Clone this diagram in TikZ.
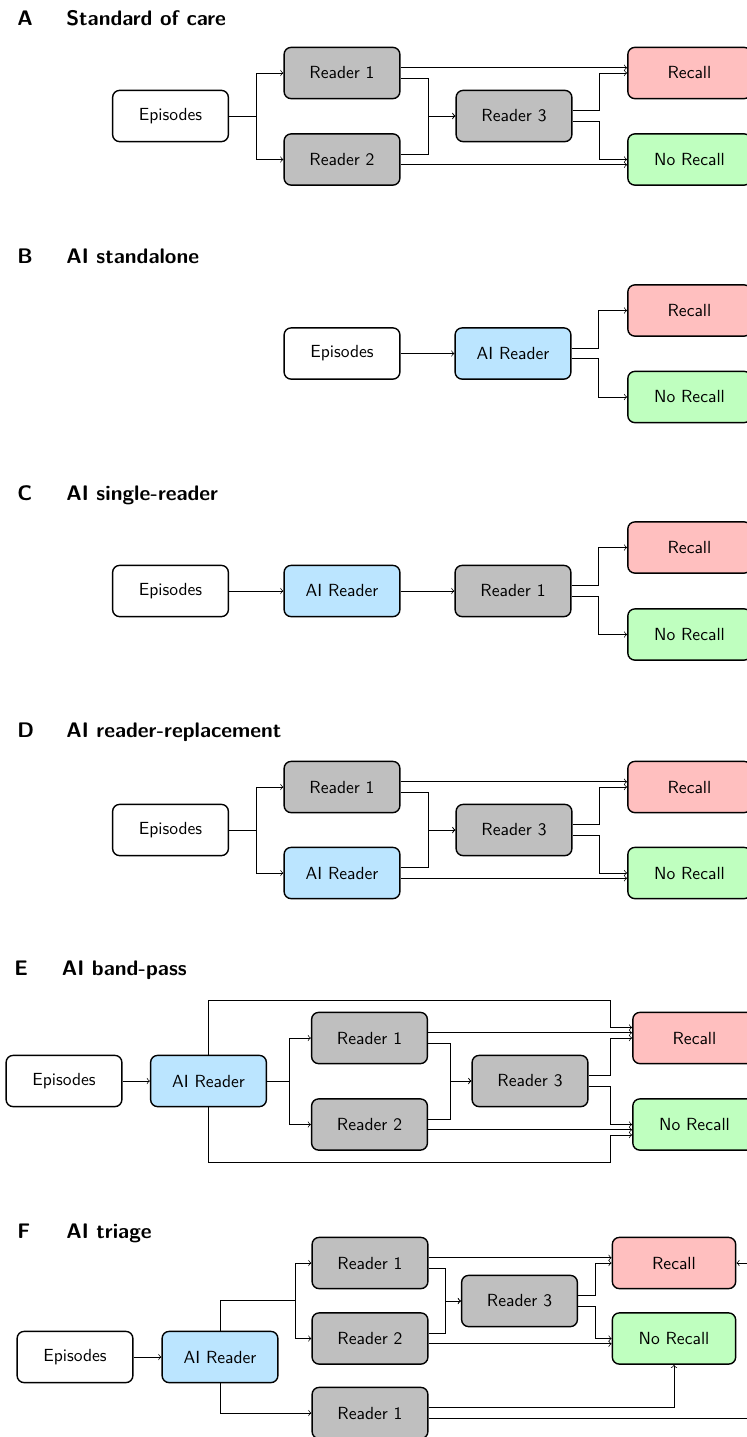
\documentclass[tikz,border=0pt]{standalone}
\usetikzlibrary{arrows}
\definecolor{greyfill}{RGB}{191,191,191}
\definecolor{aifill}{RGB}{187,229,255}
\definecolor{recfill}{RGB}{255,191,191}
\definecolor{norfill}{RGB}{191,255,191}
\begin{document}
\begin{tikzpicture}[x=0.57pt,y=-0.57pt,
  box/.style={draw=black, line width=0.8pt, rounded corners=4pt, minimum width=66pt, minimum height=29.2pt, inner sep=0pt, font=\sffamily},
  ep/.style={box, fill=white},
  rd/.style={box, fill=greyfill},
  ai/.style={box, fill=aifill},
  rc/.style={box, fill=recfill, minimum width=70.3pt},
  nr/.style={box, fill=norfill, minimum width=70.3pt},
  conn/.style={->, line width=0.4pt, black},
  lbl/.style={anchor=base west, font=\sffamily\bfseries\large, inner sep=0pt}
]
\useasboundingbox (0,0) rectangle (746,1437);

% ---------------- A
\node[lbl] (tA) at (17,25) {A};
\node[lbl] (nA) at (66,25) {Standard of care};
\node[ep] (epA) at (170.5,116) {Episodes};
\node[rd] (r1A) at (342,73) {Reader 1};
\node[rd] (r2A) at (342,159.5) {Reader 2};
\node[rd] (r3A) at (514,116) {Reader 3};
\node[rc] (recA) at (689.5,73) {Recall};
\node[nr] (norA) at (689.5,159.5) {No Recall};
\draw[conn] (epA.east) -- ++(27,0) |- (r1A.west);
\draw[conn] (epA.east) -- ++(27,0) |- (r2A.west);
\draw[conn] ([yshift=3pt]r1A.east) -- ([yshift=3pt]recA.west);
\draw[conn] ([yshift=-3pt]r1A.east) -- ++(28,0) |- (r3A.west);
\draw[conn] ([yshift=3pt]r2A.east) -- ++(28,0) |- (r3A.west);
\draw[conn] ([yshift=-3pt]r2A.east) -- ([yshift=-3pt]norA.west);
\draw[conn] ([yshift=3pt]r3A.east) -- ++(27,0) |- (recA.west);
\draw[conn] ([yshift=-3pt]r3A.east) -- ++(27,0) |- (norA.west);

% ---------------- B
\node[lbl] (tB) at (17,263) {B};
\node[lbl] (nB) at (66,263) {AI standalone};
\node[ep] (epB) at (342,353.5) {Episodes};
\node[ai] (aiB) at (513,353.5) {AI Reader};
\node[rc] (recB) at (689.5,310.5) {Recall};
\node[nr] (norB) at (689.5,397) {No Recall};
\draw[conn] (epB) -- (aiB);
\draw[conn] ([yshift=3pt]aiB.east) -- ++(27,0) |- (recB.west);
\draw[conn] ([yshift=-3pt]aiB.east) -- ++(27,0) |- (norB.west);

% ---------------- C
\node[lbl] (tC) at (17,500.5) {C};
\node[lbl] (nC) at (66,500.5) {AI single-reader};
\node[ep] (epC) at (170.5,591) {Episodes};
\node[ai] (aiC) at (342,591) {AI Reader};
\node[rd] (r1C) at (513,591) {Reader 1};
\node[rc] (recC) at (689.5,547.5) {Recall};
\node[nr] (norC) at (689.5,634.5) {No Recall};
\draw[conn] (epC) -- (aiC);
\draw[conn] (aiC) -- (r1C);
\draw[conn] ([yshift=3pt]r1C.east) -- ++(27,0) |- (recC.west);
\draw[conn] ([yshift=-3pt]r1C.east) -- ++(27,0) |- (norC.west);

% ---------------- D
\node[lbl] (tD) at (17,737) {D};
\node[lbl] (nD) at (66,737) {AI reader-replacement};
\node[ep] (epD) at (170.5,830) {Episodes};
\node[rd] (r1D) at (342,787) {Reader 1};
\node[ai] (aiD) at (342,873) {AI Reader};
\node[rd] (r3D) at (514,830) {Reader 3};
\node[rc] (recD) at (689.5,787) {Recall};
\node[nr] (norD) at (689.5,873) {No Recall};
\draw[conn] (epD.east) -- ++(27,0) |- (r1D.west);
\draw[conn] (epD.east) -- ++(27,0) |- (aiD.west);
\draw[conn] ([yshift=3pt]r1D.east) -- ([yshift=3pt]recD.west);
\draw[conn] ([yshift=-3pt]r1D.east) -- ++(28,0) |- (r3D.west);
\draw[conn] ([yshift=3pt]aiD.east) -- ++(28,0) |- (r3D.west);
\draw[conn] ([yshift=-3pt]aiD.east) -- ([yshift=-3pt]norD.west);
\draw[conn] ([yshift=3pt]r3D.east) -- ++(27,0) |- (recD.west);
\draw[conn] ([yshift=-3pt]r3D.east) -- ++(27,0) |- (norD.west);

% ---------------- E
\node[lbl] (tE) at (14,975) {E};
\node[lbl] (nE) at (61.5,975) {AI band-pass};
\node[ep] (epE) at (64,1081) {Episodes};
\node[ai] (aiE) at (208.5,1081) {AI Reader};
\node[rd] (r1E) at (369.5,1038) {Reader 1};
\node[rd] (r2E) at (369.5,1124.5) {Reader 2};
\node[rd] (r3E) at (530,1081) {Reader 3};
\node[rc] (recE) at (694.5,1038) {Recall};
\node[nr] (norE) at (694.5,1124.5) {No Recall};
\coordinate (topE) at (610.5,1000.7);
\coordinate (botE) at (610.5,1162);
\draw[conn] (epE) -- (aiE);
\draw[conn] (aiE.east) -- ++(22,0) |- (r1E.west);
\draw[conn] (aiE.east) -- ++(22,0) |- (r2E.west);
\draw[conn] ([yshift=3pt]r1E.east) -- ([yshift=3pt]recE.west);
\draw[conn] ([yshift=-3pt]r1E.east) -- ++(22.5,0) |- (r3E.west);
\draw[conn] ([yshift=3pt]r2E.east) -- ++(22.5,0) |- (r3E.west);
\draw[conn] ([yshift=-3pt]r2E.east) -- ([yshift=-3pt]norE.west);
\draw[conn] ([yshift=3pt]r3E.east) -- ++(22,0) |- (recE.west);
\draw[conn] ([yshift=-3pt]r3E.east) -- ++(22,0) |- (norE.west);
\draw[conn] (aiE.north) |- (topE) |- ([yshift=6pt]recE.west);
\draw[conn] (aiE.south) |- (botE) |- ([yshift=-6pt]norE.west);

% ---------------- F
\node[lbl] (tF) at (17,1238) {F};
\node[lbl] (nF) at (66,1238) {AI triage};
\node[ep] (epF) at (75,1357) {Episodes};
\node[ai] (aiF) at (220,1357) {AI Reader};
\node[rd] (r1F) at (370,1263) {Reader 1};
\node[rd] (r2F) at (370,1338.5) {Reader 2};
\node[rd] (r3F) at (519.5,1301) {Reader 3};
\node[rd] (r4F) at (370,1413) {Reader 1};
\node[rc] (recF) at (674,1263) {Recall};
\node[nr] (norF) at (674,1338.5) {No Recall};
\coordinate (sF) at (295,1300.5);
\coordinate (cF) at (760,1263);
\draw[conn] (epF) -- (aiF);
\draw[conn] (aiF.north) |- (sF) |- (r1F.west);
\draw[conn] (aiF.north) |- (sF) |- (r2F.west);
\draw[conn] (aiF.south) |- (r4F.west);
\draw[conn] ([yshift=3pt]r1F.east) -- ([yshift=3pt]recF.west);
\draw[conn] ([yshift=-3pt]r1F.east) -- ++(17,0) |- (r3F.west);
\draw[conn] ([yshift=3pt]r2F.east) -- ++(17,0) |- (r3F.west);
\draw[conn] ([yshift=-3pt]r2F.east) -- ([yshift=-3pt]norF.west);
\draw[conn] ([yshift=3pt]r3F.east) -- ++(17.5,0) |- (recF.west);
\draw[conn] ([yshift=-3pt]r3F.east) -- ++(17.5,0) |- (norF.west);
\draw[conn] ([yshift=3pt]r4F.east) -| (norF.south);
\draw[conn] ([yshift=-3pt]r4F.east) -| (cF) -- (recF.east);
\end{tikzpicture}
\end{document}
